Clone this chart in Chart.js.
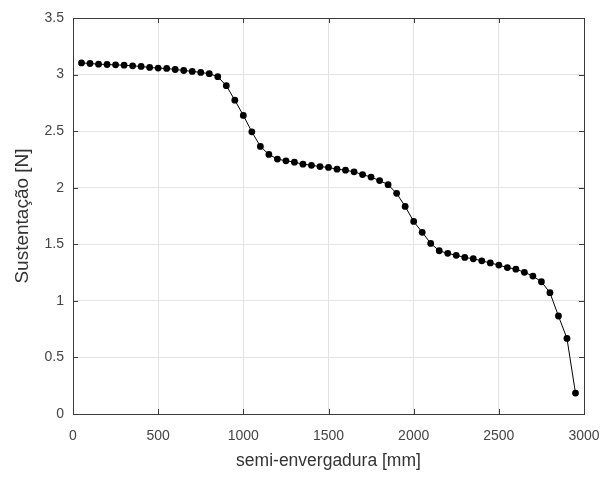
<!DOCTYPE html>
<html>
<head>
<meta charset="utf-8">
<script src="https://cdn.jsdelivr.net/npm/chart.js@4/dist/chart.umd.min.js"></script>
<style>
html,body{margin:0;padding:0;background:#fff;}
#wrap{width:608px;height:477px;}
</style>
</head>
<body>
<div id="wrap"><canvas id="c" width="608" height="477"></canvas></div>
<script>
const spanPositions = [50,100,150,200,250,300,350,400,450,500,550,600,650,700,750,800,850,900,950,1000,1050,1100,1150,1200,1250,1300,1350,1400,1450,1500,1550,1600,1650,1700,1750,1800,1850,1900,1950,2000,2050,2100,2150,2200,2250,2300,2350,2400,2450,2500,2550,2600,2650,2700,2750,2800,2850,2900,2950];
const liftValues = [3.103,3.098,3.092,3.089,3.086,3.083,3.077,3.072,3.063,3.057,3.054,3.045,3.036,3.028,3.019,3.008,2.981,2.902,2.774,2.639,2.494,2.365,2.294,2.253,2.238,2.226,2.208,2.198,2.187,2.179,2.164,2.155,2.140,2.116,2.094,2.063,2.027,1.950,1.835,1.702,1.606,1.508,1.443,1.420,1.402,1.384,1.372,1.354,1.335,1.316,1.294,1.280,1.252,1.219,1.169,1.072,0.866,0.668,0.185];
const xTickValues = [0,500,1000,1500,2000,2500,3000];
const yTickValues = [0,0.5,1,1.5,2,2.5,3,3.5];
const xTitle = 'semi-envergadura [mm]';
const yTitle = 'Sustentação [N]';

const points = spanPositions.map((x,i)=>({x:x,y:liftValues[i]}));

const inwardTicks = {
  id:'inwardTicks',
  afterDatasetsDraw(chart){
    const {ctx, chartArea:a, scales:{x,y}} = chart;
    ctx.save();
    ctx.strokeStyle = '#3a3a3a';
    ctx.lineWidth = 1;
    const L = 5;
    ctx.beginPath();
    xTickValues.forEach(v=>{
      const px = Math.round(x.getPixelForValue(v))+0.5;
      ctx.moveTo(px,a.bottom); ctx.lineTo(px,a.bottom-L);
      ctx.moveTo(px,a.top); ctx.lineTo(px,a.top+L);
    });
    yTickValues.forEach(v=>{
      const py = Math.round(y.getPixelForValue(v))+0.5;
      ctx.moveTo(a.left,py); ctx.lineTo(a.left+L,py);
      ctx.moveTo(a.right,py); ctx.lineTo(a.right-L,py);
    });
    ctx.stroke();
    ctx.strokeStyle = '#3a3a3a';
    ctx.strokeRect(Math.round(a.left)+0.5, Math.round(a.top)+0.5, Math.round(a.right-a.left), Math.round(a.bottom-a.top));
    ctx.restore();
  }
};

new Chart(document.getElementById('c'), {
  type:'line',
  data:{datasets:[{
    data:points,
    borderColor:'#000',
    backgroundColor:'#000',
    borderWidth:1,
    pointRadius:3.4,
    pointHoverRadius:3.4,
    pointBorderWidth:0,
    pointBackgroundColor:'#000',
    tension:0
  }]},
  options:{
    responsive:false,
    animation:false,
    devicePixelRatio:1,
    layout:{padding:{left:0,right:24,top:18,bottom:0}},
    plugins:{legend:{display:false},tooltip:{enabled:false}},
    scales:{
      x:{
        type:'linear',min:0,max:3000,
        afterBuildTicks(s){s.ticks = xTickValues.map(v=>({value:v}));},
        afterFit(s){s.height = 63; s.paddingLeft = 0; s.paddingRight = 0;},
        grid:{color:'#e3e3e3',drawTicks:false,lineWidth:1},
        border:{display:false},
        ticks:{padding:14,color:'#444',font:{family:'Liberation Sans, Arial, sans-serif',size:14},maxRotation:0,callback:(v)=>String(v)},
        title:{display:true,text:xTitle,color:'#333',font:{family:'Liberation Sans, Arial, sans-serif',size:17.5},padding:{top:0,bottom:5}}
      },
      y:{
        type:'linear',min:0,max:3.5,
        afterBuildTicks(s){s.ticks = yTickValues.map(v=>({value:v}));},
        afterFit(s){s.width = 73; s.paddingTop = 0; s.paddingBottom = 0;},
        grid:{color:'#e3e3e3',drawTicks:false,lineWidth:1},
        border:{display:false},
        ticks:{padding:9,color:'#444',font:{family:'Liberation Sans, Arial, sans-serif',size:14},callback:(v)=>String(v)},
        title:{display:true,text:yTitle,color:'#333',font:{family:'Liberation Sans, Arial, sans-serif',size:19},padding:{top:11,bottom:0}}
      }
    }
  },
  plugins:[inwardTicks]
});
</script>
</body>
</html>
